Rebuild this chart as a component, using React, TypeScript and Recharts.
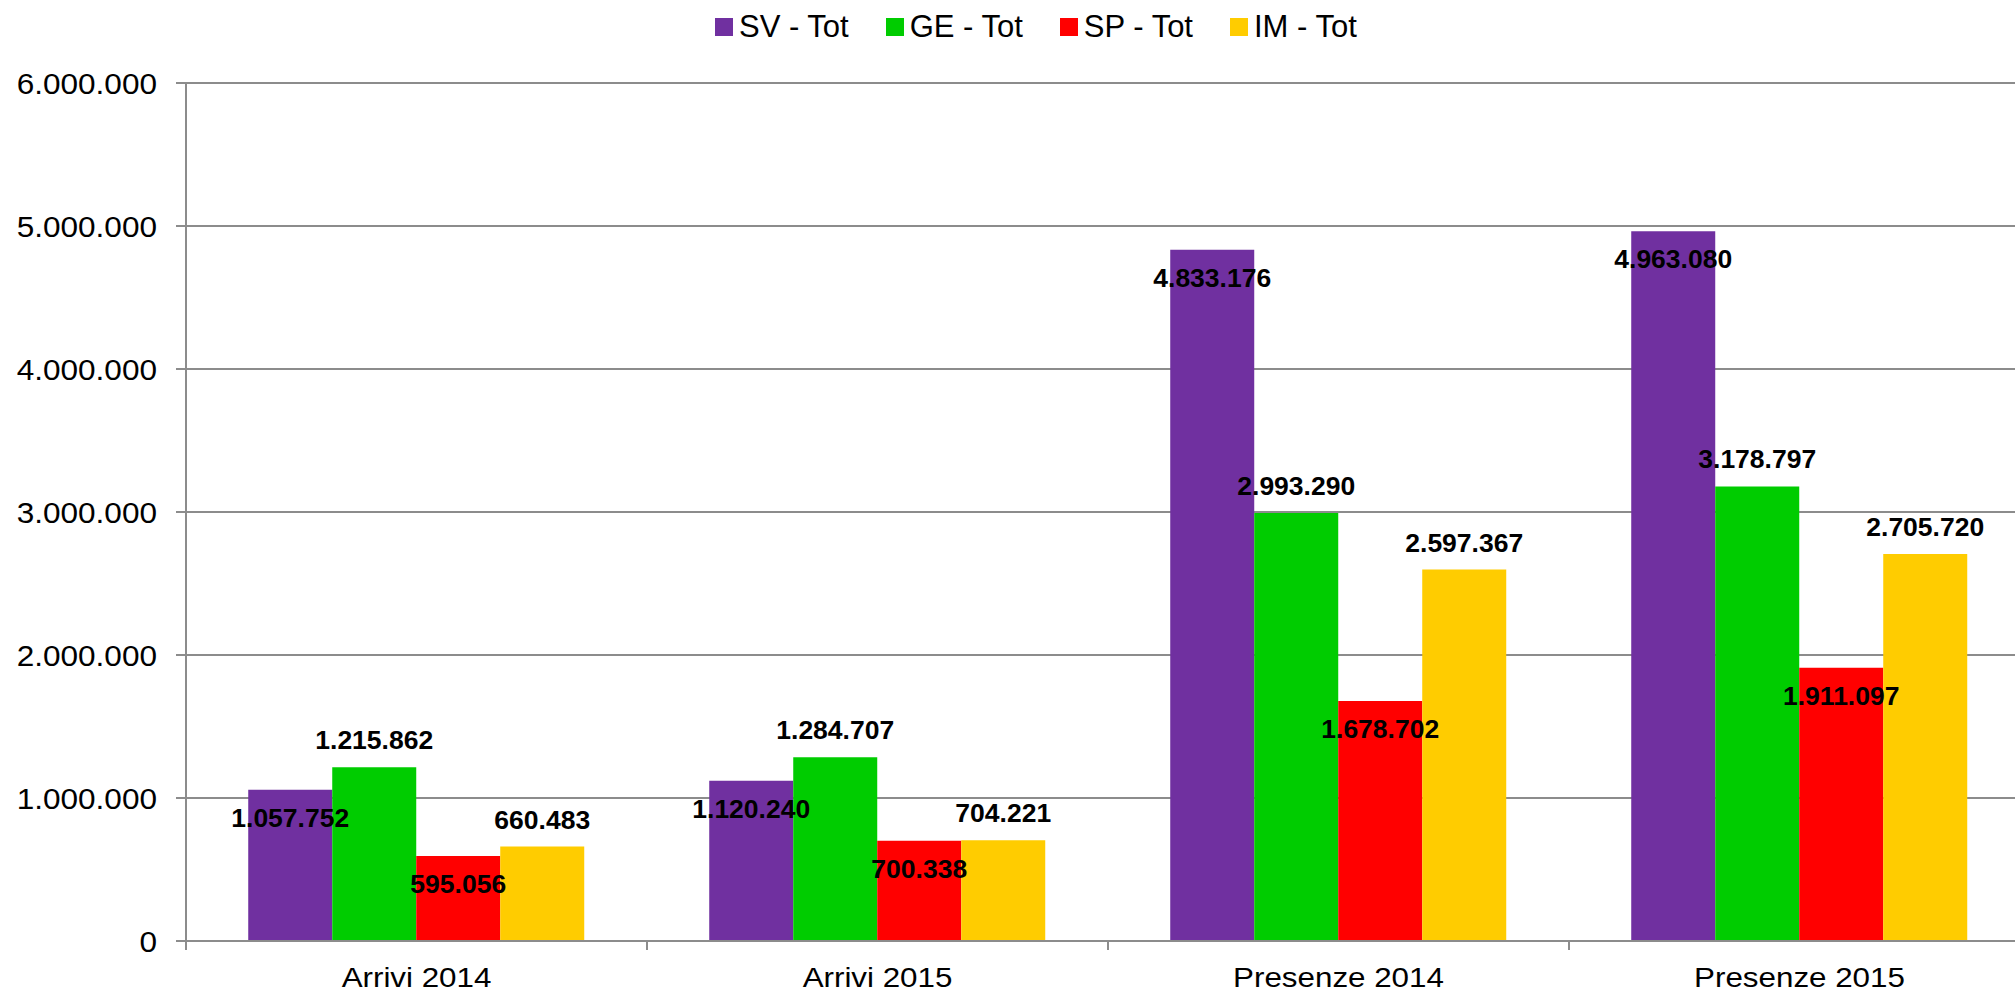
import React from 'react';
import { BarChart, Bar, XAxis, YAxis, CartesianGrid, Legend, LabelList } from 'recharts';

const categories = ['Arrivi 2014', 'Arrivi 2015', 'Presenze 2014', 'Presenze 2015'];
const svTot = [1057752, 1120240, 4833176, 4963080];
const geTot = [1215862, 1284707, 2993290, 3178797];
const spTot = [595056, 700338, 1678702, 1911097];
const imTot = [660483, 704221, 2597367, 2705720];
const seriesKeys = ['sv', 'ge', 'sp', 'im'];
const seriesNames = ['SV - Tot', 'GE - Tot', 'SP - Tot', 'IM - Tot'];
const seriesColors = ['#7030A0', '#00CC00', '#FF0000', '#FFCC00'];
const labelInside = [true, false, true, false];
const yTicks = [0, 1000000, 2000000, 3000000, 4000000, 5000000, 6000000];

const data = categories.map((name, i) => ({
  name,
  sv: svTot[i],
  ge: geTot[i],
  sp: spTot[i],
  im: imTot[i],
}));

const fmt = (v: number) => String(Math.round(v)).replace(/\B(?=(\d{3})+(?!\d))/g, '.');

const CHART_W = 2030;
const CHART_H = 994;
const Y_AXIS_W = 186;
const X_AXIS_H = 53;
const PLOT_W = CHART_W - Y_AXIS_W;
const BAND = PLOT_W / categories.length;
const PLOT_BOTTOM = CHART_H - X_AXIS_H;
const FONT = '"Liberation Sans", Arial, sans-serif';
const Y_STRETCH = 1.07;
const X_STRETCH = 1.1;
const GRID = '#8c8c8c';

const YTick = (props: any) => {
  const { x, y, payload } = props;
  return (
    <text
      transform={`translate(${x},${y}) scale(${Y_STRETCH},1)`}
      textAnchor="end"
      dominantBaseline="central"
      fontSize={29.5}
      fontFamily={FONT}
      fill="#000"
    >
      {fmt(payload.value)}
    </text>
  );
};

const XTick = (props: any) => {
  const { x, payload, index } = props;
  const left = x - BAND / 2;
  return (
    <g>
      <line x1={left} y1={PLOT_BOTTOM} x2={left} y2={PLOT_BOTTOM + 9} stroke={GRID} strokeWidth={2} />
      {index === categories.length - 1 ? (
        <line x1={x + BAND / 2} y1={PLOT_BOTTOM} x2={x + BAND / 2} y2={PLOT_BOTTOM + 9} stroke={GRID} strokeWidth={2} />
      ) : null}
      <text
        transform={`translate(${x},${PLOT_BOTTOM + 36}) scale(${X_STRETCH},1)`}
        textAnchor="middle"
        dominantBaseline="central"
        fontSize={28.5}
        fontFamily={FONT}
        fill="#000"
      >
        {payload.value}
      </text>
    </g>
  );
};

const makeLabel = (inside: boolean) => (p: any) => {
  const vb = p.viewBox || {};
  const bx = Number(p.x ?? vb.x);
  const by = Number(p.y ?? vb.y);
  const bw = Number(p.width ?? vb.width);
  const cx = bx + bw / 2;
  const cy = by + (inside ? 28 : -27);
  return (
    <text
      x={cx}
      y={cy}
      textAnchor="middle"
      dominantBaseline="central"
      fontSize={26.5}
      fontWeight="bold"
      fontFamily={FONT}
      fill="#000"
    >
      {fmt(Number(p.value))}
    </text>
  );
};

const LegendContent = (props: any) => {
  const payload = [...(props.payload || [])].sort(
    (a: any, b: any) => seriesNames.indexOf(a.value) - seriesNames.indexOf(b.value)
  );
  return (
    <div style={{ display: 'flex', alignItems: 'center', fontFamily: FONT, fontSize: 31, color: '#000', whiteSpace: 'nowrap' }}>
      {payload.map((item: any) => (
        <div key={item.value} style={{ display: 'flex', alignItems: 'center', marginRight: 37 }}>
          <span style={{ display: 'inline-block', width: 18, height: 18, background: item.color, marginRight: 6 }} />
          <span style={{ display: 'inline-block', lineHeight: '34px' }}>{item.value}</span>
        </div>
      ))}
    </div>
  );
};

export default function App() {
  return (
    <div style={{ position: 'absolute', left: 0, top: 0, width: 2015, height: 994, overflow: 'hidden', background: '#fff' }}>
      <BarChart
        width={CHART_W}
        height={CHART_H}
        data={data}
        margin={{ top: 83, right: 0, bottom: 0, left: 0 }}
        barCategoryGap="13.5%"
        barGap={0}
      >
        <CartesianGrid vertical={false} stroke={GRID} strokeWidth={2} />
        <XAxis
          dataKey="name"
          height={X_AXIS_H}
          interval={0}
          tickLine={false}
          axisLine={{ stroke: GRID, strokeWidth: 2 }}
          tick={XTick}
        />
        <YAxis
          width={Y_AXIS_W}
          domain={[0, 6000000]}
          ticks={yTicks}
          interval={0}
          tickSize={10}
          tickMargin={19}
          axisLine={{ stroke: GRID, strokeWidth: 2 }}
          tickLine={{ stroke: GRID, strokeWidth: 2 }}
          tick={YTick}
        />
        <Legend
          verticalAlign="middle"
          align="center"
          layout="horizontal"
          content={LegendContent}
          wrapperStyle={{ top: 10, left: 715, width: 'auto' }}
        />
        {seriesKeys.map((k, i) => (
          <Bar key={k} dataKey={k} name={seriesNames[i]} fill={seriesColors[i]} isAnimationActive={false}>
            <LabelList dataKey={k} content={makeLabel(labelInside[i])} />
          </Bar>
        ))}
      </BarChart>
    </div>
  );
}
